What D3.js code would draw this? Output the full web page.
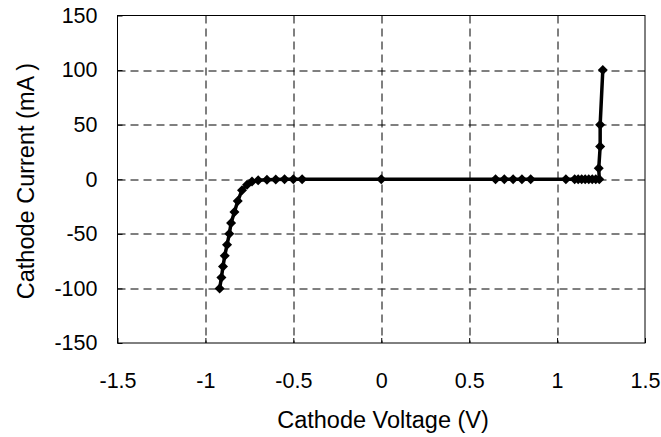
<!DOCTYPE html>
<html>
<head>
<meta charset="utf-8">
<script src="https://cdn.jsdelivr.net/npm/d3@7"></script>
<style>
  body { margin: 0; background: #fff; }
  text { font-family: "Liberation Sans", Arial, sans-serif; fill: #000; }
</style>
</head>
<body>
<svg id="chart" width="661" height="437"></svg>
<script>
// Cathode voltage (V) and current (mA)
var voltage = [-0.919, -0.909, -0.900, -0.890, -0.877, -0.864, -0.854, -0.835, -0.816, -0.792,
               -0.763, -0.735, -0.70, -0.65, -0.60, -0.55, -0.50, -0.45,
               0, 0.65, 0.70, 0.75, 0.80, 0.85,
               1.05, 1.10, 1.12, 1.14, 1.16, 1.18, 1.20, 1.22, 1.24,
               1.237, 1.245, 1.245, 1.26];
var current = [-100, -90, -80, -70, -60, -50, -40, -30, -20, -10,
               -5, -2, -1, -0.5, -0.2, -0.1, 0, 0,
               0, 0, 0, 0, 0, 0,
               0, 0, 0, 0, 0, 0, 0, 0, 0,
               10, 30, 50, 100];
var xTicks = [-1.5, -1, -0.5, 0, 0.5, 1, 1.5];
var yTicks = [-150, -100, -50, 0, 50, 100, 150];

var svg = d3.select("#chart");
var margin = {left: 117.5, right: 16, top: 15.5, bottom: 94};
var width = 661 - margin.left - margin.right;
var height = 437 - margin.top - margin.bottom;

var x = d3.scaleLinear().domain([-1.5, 1.5]).range([0, width]);
var y = d3.scaleLinear().domain([-150, 150]).range([height, 0]);

var g = svg.append("g").attr("transform", "translate(" + margin.left + "," + margin.top + ")");

// Grid lines
g.append("g").selectAll("line")
  .data(xTicks.slice(1, -1)).enter().append("line")
  .attr("x1", function(d) { return Math.round(x(d)) + 0.5; })
  .attr("x2", function(d) { return Math.round(x(d)) + 0.5; })
  .attr("y1", 0).attr("y2", height)
  .attr("stroke", "#000").attr("stroke-width", 1)
  .attr("stroke-dasharray", "8,5");

g.append("g").selectAll("line")
  .data(yTicks.slice(1, -1)).enter().append("line")
  .attr("y1", function(d) { return Math.round(y(d)) + 0.5; })
  .attr("y2", function(d) { return Math.round(y(d)) + 0.5; })
  .attr("x1", 0).attr("x2", width)
  .attr("stroke", "#000").attr("stroke-width", 1)
  .attr("stroke-dasharray", "8,5");

// Axes
var fmt = function(d) { return String(d); };
var xAxis = g.append("g").attr("transform", "translate(0," + height + ")")
  .call(d3.axisBottom(x).tickValues(xTicks).tickSize(-5).tickPadding(30).tickFormat(fmt));
var yAxis = g.append("g")
  .call(d3.axisLeft(y).tickValues(yTicks).tickSize(-5).tickPadding(20).tickFormat(fmt));

[xAxis, yAxis].forEach(function(a) {
  a.select(".domain").remove();
  a.selectAll("line").attr("stroke", "#000");
  a.selectAll("text").style("font-size", "21.5px").attr("font-family", "Liberation Sans, Arial, sans-serif");
});

// Plot border
g.append("rect")
  .attr("x", 0).attr("y", 0).attr("width", width).attr("height", height)
  .attr("fill", "none").attr("stroke", "#000").attr("stroke-width", 1);

// Curve
var points = voltage.map(function(v, i) { return [v, current[i]]; });
var line = d3.line().x(function(d) { return x(d[0]); }).y(function(d) { return y(d[1]); });
g.append("path").datum(points)
  .attr("d", line)
  .attr("fill", "none").attr("stroke", "#000").attr("stroke-width", 3.5)
  .attr("stroke-linejoin", "round");

g.append("g").selectAll("path")
  .data(points).enter().append("path")
  .attr("d", d3.symbol().type(d3.symbolDiamond2).size(64))
  .attr("transform", function(d) { return "translate(" + x(d[0]) + "," + y(d[1]) + ")"; })
  .attr("fill", "#000");

// Axis titles
svg.append("text")
  .attr("x", 383).attr("y", 428)
  .attr("text-anchor", "middle").style("font-size", "23.5px")
  .text("Cathode Voltage (V)");

svg.append("text")
  .attr("transform", "translate(34,181) rotate(-90)")
  .attr("text-anchor", "middle").style("font-size", "23.5px")
  .text("Cathode Current (mA )");
</script>
</body>
</html>
